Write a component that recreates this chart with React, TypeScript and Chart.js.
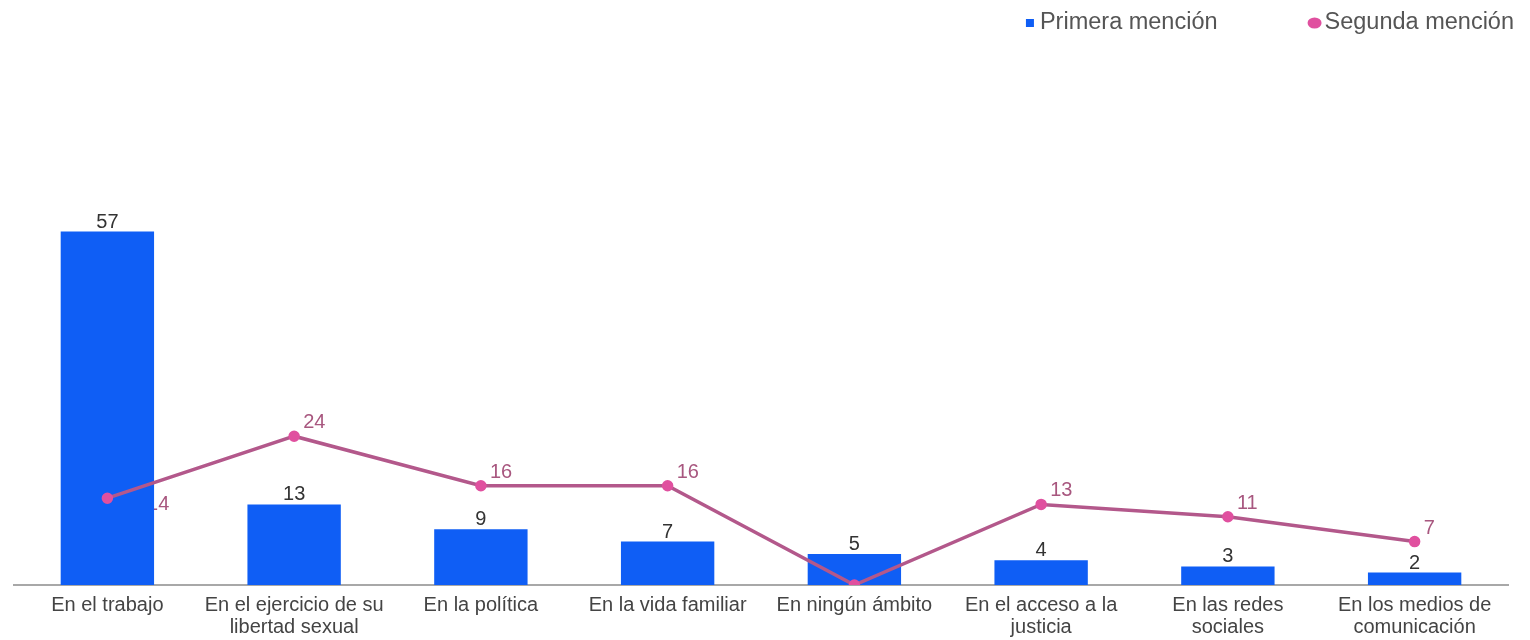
import React, { useEffect, useRef } from "react";
import { Chart, registerables } from "chart.js";

Chart.register(...registerables);

const categories: string[][] = [
  ["En el trabajo"],
  ["En el ejercicio de su", "libertad sexual"],
  ["En la política"],
  ["En la vida familiar"],
  ["En ningún ámbito"],
  ["En el acceso a la", "justicia"],
  ["En las redes", "sociales"],
  ["En los medios de", "comunicación"],
];
const primeraLabel = "Primera mención";
const segundaLabel = "Segunda mención";
const primera = [57, 13, 9, 7, 5, 4, 3, 2];
const segunda = [14, 24, 16, 16, 0, 13, 11, 7];

const FONT = "'Liberation Sans', Arial, sans-serif";
const BAR_COLOR = "#0f5ef5";
const LINE_COLOR = "#b3588b";
const POINT_COLOR = "#e0509f";
const LINE_LABEL_COLOR = "#a8577f";

const lineLabelPlugin = {
  id: "lineLabels",
  beforeDatasetsDraw(chart: any) {
    const ctx = chart.ctx;
    const lineMeta = chart.getDatasetMeta(1);
    const barMeta = chart.getDatasetMeta(0);
    ctx.save();
    ctx.font = `20px ${FONT}`;
    ctx.fillStyle = LINE_LABEL_COLOR;
    ctx.textAlign = "left";
    ctx.textBaseline = "alphabetic";
    lineMeta.data.forEach((pt: any, i: number) => {
      const v = segunda[i];
      if (!v) return;
      const bar = barMeta.data[i];
      if (v < primera[i] && bar) {
        ctx.fillText(String(v), bar.x + bar.width / 2 - 7, pt.y + 12);
      } else {
        ctx.fillText(String(v), pt.x + 9, pt.y - 8);
      }
    });
    ctx.restore();
  },
};

const barLabelPlugin = {
  id: "barLabels",
  afterDatasetsDraw(chart: any) {
    const ctx = chart.ctx;
    const barMeta = chart.getDatasetMeta(0);
    ctx.save();
    ctx.font = `20px ${FONT}`;
    ctx.fillStyle = "#333333";
    ctx.textAlign = "center";
    ctx.textBaseline = "alphabetic";
    barMeta.data.forEach((bar: any, i: number) => {
      ctx.fillText(String(primera[i]), bar.x, bar.y - 4);
    });
    ctx.restore();
  },
};

const legendPlugin = {
  id: "customLegend",
  afterDraw(chart: any) {
    const ctx = chart.ctx;
    ctx.save();
    ctx.font = `23.5px ${FONT}`;
    ctx.fillStyle = "#555555";
    ctx.textBaseline = "middle";
    ctx.textAlign = "left";
    const y = 23;
    const right = 1514;
    const w2 = ctx.measureText(segundaLabel).width;
    const t2 = right - w2;
    const m2 = t2 - 10;
    const w1 = ctx.measureText(primeraLabel).width;
    const t1end = m2 - 7 - 90;
    const t1 = t1end - w1;
    const m1 = t1 - 10;
    ctx.fillText(primeraLabel, t1, y);
    ctx.fillText(segundaLabel, t2, y);
    ctx.fillStyle = BAR_COLOR;
    ctx.fillRect(m1 - 4, y - 4, 8, 8);
    ctx.fillStyle = POINT_COLOR;
    ctx.beginPath();
    ctx.ellipse(m2, y, 7, 5.5, 0, 0, Math.PI * 2);
    ctx.fill();
    ctx.restore();
  },
};

export default function App() {
  const ref = useRef<HTMLCanvasElement | null>(null);
  useEffect(() => {
    if (!ref.current) return;
    const chart = new Chart(ref.current, {
      type: "bar",
      data: {
        labels: categories as any,
        datasets: [
          {
            type: "bar",
            label: primeraLabel,
            data: primera,
            backgroundColor: BAR_COLOR,
            barPercentage: 0.5,
            categoryPercentage: 1,
            order: 1,
          },
          {
            type: "line",
            label: segundaLabel,
            data: segunda,
            borderColor: LINE_COLOR,
            borderWidth: 3.5,
            pointBackgroundColor: POINT_COLOR,
            pointBorderColor: POINT_COLOR,
            pointRadius: 4,
            tension: 0,
            order: 0,
          } as any,
        ],
      },
      options: {
        animation: false,
        responsive: true,
        maintainAspectRatio: false,
        layout: { padding: { top: 213, left: 14, right: 22, bottom: 0 } },
        plugins: {
          legend: { display: false },
          tooltip: { enabled: false },
        },
        scales: {
          x: {
            grid: { display: false, drawTicks: false },
            border: { display: true, color: "#a8a8a8", width: 2 },
            ticks: {
              color: "#444444",
              font: { size: 20, family: FONT, lineHeight: 1.1 },
              padding: 9,
              maxRotation: 0,
              autoSkip: false,
            },
            afterFit: (scale: any) => {
              scale.height = 55;
            },
          },
          y: {
            display: false,
            min: 0,
            max: 60,
          },
        },
      },
      plugins: [lineLabelPlugin, barLabelPlugin, legendPlugin],
    });
    return () => chart.destroy();
  }, []);
  return (
    <div style={{ position: "absolute", left: 0, top: 0, width: 1530, height: 640, background: "#fff" }}>
      <canvas ref={ref} />
    </div>
  );
}
